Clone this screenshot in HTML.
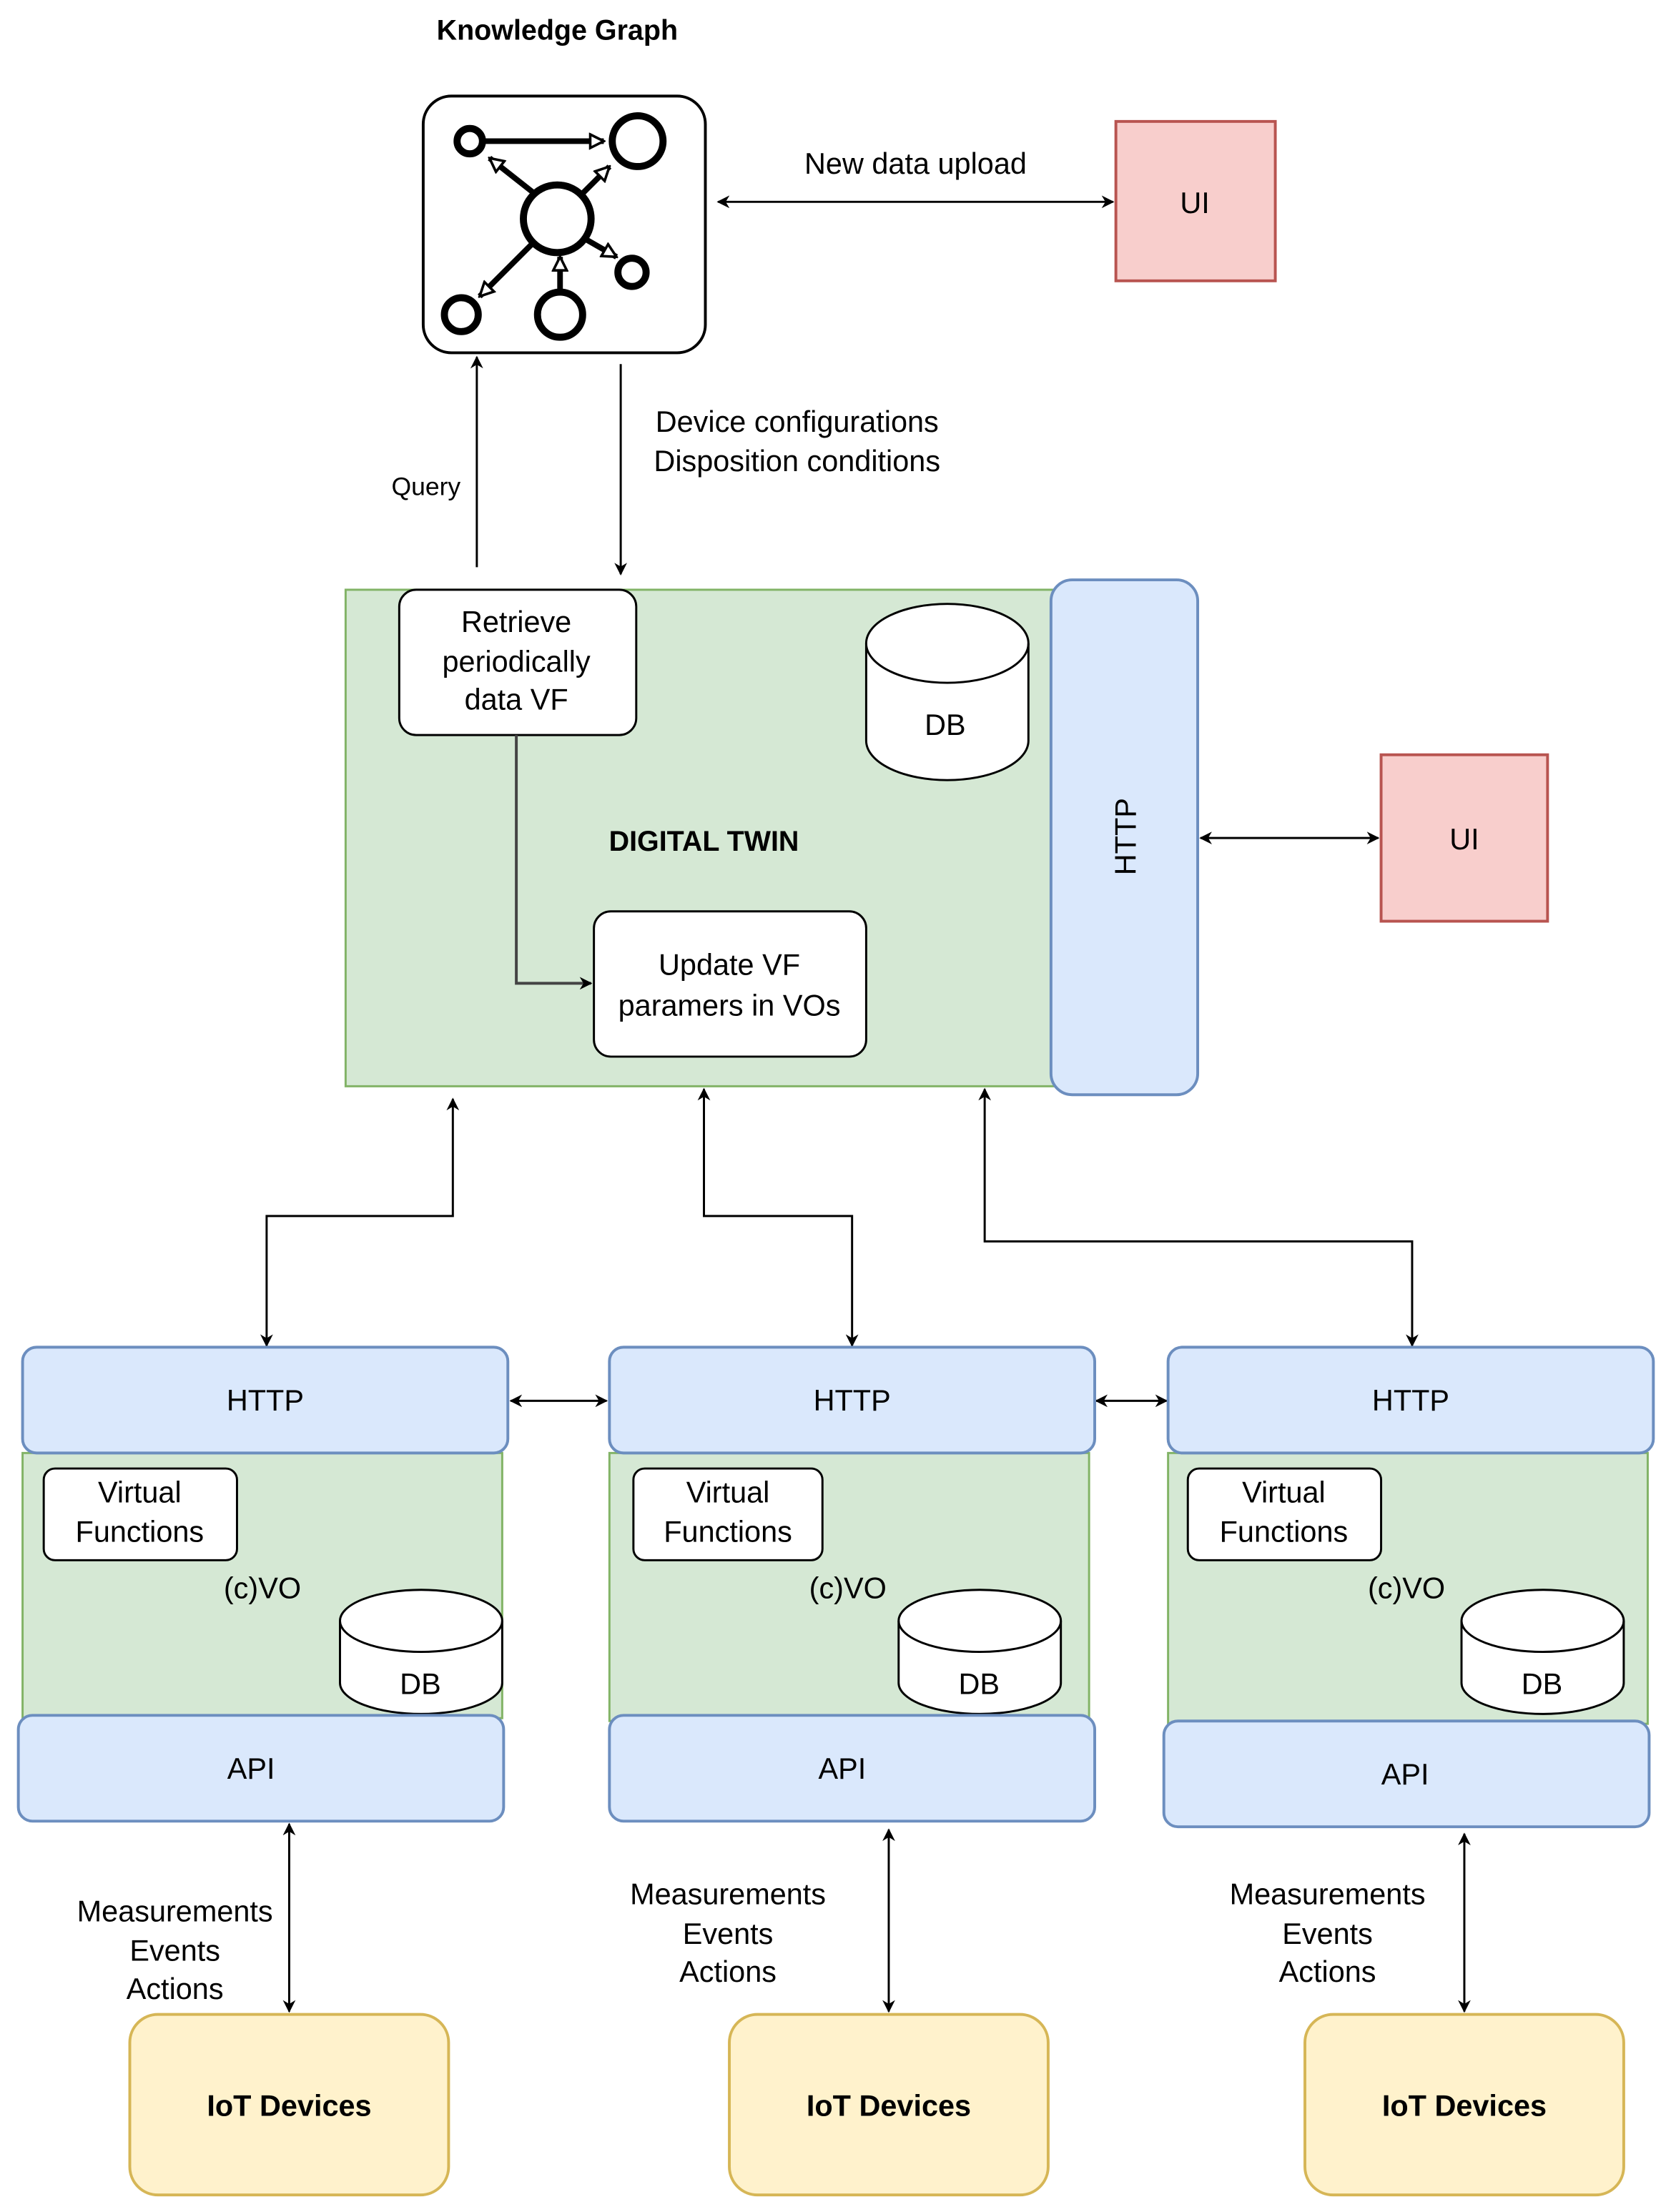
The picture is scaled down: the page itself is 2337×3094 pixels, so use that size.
<!DOCTYPE html>
<html><head><meta charset="utf-8"><style>html,body{margin:0;padding:0;background:#fff}svg{display:block}text{font-family:"Liberation Sans",Arial,sans-serif;fill:#000}</style></head>
<body>
<svg width="2337" height="3094" viewBox="0 0 1184.5 1568" xmlns="http://www.w3.org/2000/svg">
<defs>
<marker id="a" viewBox="0 0 10 10" refX="9" refY="5" markerWidth="9" markerHeight="9" markerUnits="userSpaceOnUse" orient="auto-start-reverse"><path d="M0,0 L10,5 L0,10 L3,5 z" fill="#000"/></marker>
<marker id="o" viewBox="0 0 10 10" refX="9" refY="5" markerWidth="12" markerHeight="12" markerUnits="userSpaceOnUse" orient="auto"><path d="M1,1 L9,5 L1,9 z" fill="#fff" stroke="#000" stroke-width="1.5"/></marker>
</defs>
<g font-size="21">
<text x="395" y="28" text-anchor="middle" font-weight="bold" font-size="20">Knowledge Graph</text>
<rect x="300" y="68" width="200" height="182" rx="20" fill="#fff" stroke="#000" stroke-width="2"/>
<g stroke="#000" stroke-width="5" fill="#fff">
<line x1="342" y1="100" x2="428" y2="100" marker-end="url(#o)" stroke-width="4"/>
<line x1="380" y1="138" x2="347" y2="112" marker-end="url(#o)" stroke-width="4"/>
<line x1="412" y1="138" x2="432" y2="118" marker-end="url(#o)" stroke-width="4"/>
<line x1="416" y1="170" x2="437" y2="182" marker-end="url(#o)" stroke-width="4"/>
<line x1="378" y1="172" x2="340" y2="210" marker-end="url(#o)" stroke-width="4"/>
<line x1="397" y1="207" x2="397" y2="182" marker-end="url(#o)" stroke-width="4"/>
<circle cx="333" cy="100" r="9"/><circle cx="452" cy="100" r="18"/><circle cx="395" cy="155" r="24"/>
<circle cx="448" cy="193" r="10"/><circle cx="327" cy="223" r="12"/><circle cx="397" cy="223" r="16"/>
</g>
<rect x="791" y="86" width="113" height="113" fill="#f8cecc" stroke="#b85450" stroke-width="2"/>
<text x="847" y="151" text-anchor="middle">UI</text>
<g stroke="#000" stroke-width="1.5" fill="none">
<line x1="509" y1="143" x2="789" y2="143" marker-start="url(#a)" marker-end="url(#a)"/>
<line x1="338" y1="402" x2="338" y2="253" marker-end="url(#a)"/>
<line x1="440" y1="258" x2="440" y2="407" marker-end="url(#a)"/>
</g>
<text x="649" y="123" text-anchor="middle">New data upload</text>
<text x="302" y="351" text-anchor="middle" font-size="18">Query</text>
<text x="565" y="306" text-anchor="middle">Device configurations</text>
<text x="565" y="334" text-anchor="middle">Disposition conditions</text>
<rect x="245" y="418" width="505" height="352" fill="#d5e8d4" stroke="#82b366" stroke-width="1.5"/>
<rect x="745" y="411" width="104" height="365" rx="15" fill="#dae8fc" stroke="#6c8ebf" stroke-width="2"/>
<text transform="translate(805,593) rotate(-90)" text-anchor="middle">HTTP</text>
<rect x="283" y="418" width="168" height="103" rx="12" fill="#fff" stroke="#000" stroke-width="1.5"/>
<text x="366" y="448" text-anchor="middle">Retrieve</text>
<text x="366" y="476" text-anchor="middle">periodically</text>
<text x="366" y="503" text-anchor="middle">data VF</text>
<path d="M614,456 a57.5,28 0 0 1 115,0 v69 a57.5,28 0 0 1 -115,0 z" fill="#fff" stroke="#000" stroke-width="1.5"/>
<path d="M614,456 a57.5,28 0 0 0 115,0" fill="none" stroke="#000" stroke-width="1.5"/>
<text x="670" y="521" text-anchor="middle">DB</text>
<text x="499" y="603" text-anchor="middle" font-weight="bold" font-size="20">DIGITAL TWIN</text>
<rect x="421" y="646" width="193" height="103" rx="12" fill="#fff" stroke="#000" stroke-width="1.5"/>
<text x="517" y="691" text-anchor="middle">Update VF</text>
<text x="517" y="720" text-anchor="middle">paramers in VOs</text>
<g stroke="#000" stroke-width="1.5" fill="none">
<polyline points="366,521 366,697 419,697" marker-end="url(#a)" stroke="#444" stroke-width="2"/>
<line x1="851" y1="594" x2="977" y2="594" marker-start="url(#a)" marker-end="url(#a)"/>
<polyline points="321,779 321,862 189,862 189,954" marker-start="url(#a)" marker-end="url(#a)"/>
<polyline points="499,772 499,862 604,862 604,954" marker-start="url(#a)" marker-end="url(#a)"/>
<polyline points="698,772 698,880 1001,880 1001,954" marker-start="url(#a)" marker-end="url(#a)"/>
<line x1="362" y1="993" x2="430" y2="993" marker-start="url(#a)" marker-end="url(#a)"/>
<line x1="777" y1="993" x2="827" y2="993" marker-start="url(#a)" marker-end="url(#a)"/>
</g>
<rect x="979" y="535" width="118" height="118" fill="#f8cecc" stroke="#b85450" stroke-width="2"/>
<text x="1038" y="602" text-anchor="middle">UI</text>

<g>
<rect x="16" y="1030" width="340" height="188" fill="#d5e8d4" stroke="#82b366" stroke-width="1.5"/>
<rect x="432" y="1030" width="340" height="190" fill="#d5e8d4" stroke="#82b366" stroke-width="1.5"/>
<rect x="828" y="1030" width="340" height="192" fill="#d5e8d4" stroke="#82b366" stroke-width="1.5"/>
<rect x="16" y="955" width="344" height="75" rx="10" fill="#dae8fc" stroke="#6c8ebf" stroke-width="2"/>
<rect x="432" y="955" width="344" height="75" rx="10" fill="#dae8fc" stroke="#6c8ebf" stroke-width="2"/>
<rect x="828" y="955" width="344" height="75" rx="10" fill="#dae8fc" stroke="#6c8ebf" stroke-width="2"/>
<text x="188" y="1000" text-anchor="middle">HTTP</text>
<text x="604" y="1000" text-anchor="middle">HTTP</text>
<text x="1000" y="1000" text-anchor="middle">HTTP</text>
<rect x="31" y="1041" width="137" height="65" rx="8" fill="#fff" stroke="#000" stroke-width="1.5"/>
<rect x="449" y="1041" width="134" height="65" rx="8" fill="#fff" stroke="#000" stroke-width="1.5"/>
<rect x="842" y="1041" width="137" height="65" rx="8" fill="#fff" stroke="#000" stroke-width="1.5"/>
<text x="99" y="1065" text-anchor="middle">Virtual</text><text x="99" y="1093" text-anchor="middle">Functions</text>
<text x="516" y="1065" text-anchor="middle">Virtual</text><text x="516" y="1093" text-anchor="middle">Functions</text>
<text x="910" y="1065" text-anchor="middle">Virtual</text><text x="910" y="1093" text-anchor="middle">Functions</text>
<text x="186" y="1133" text-anchor="middle">(c)VO</text>
<text x="601" y="1133" text-anchor="middle">(c)VO</text>
<text x="997" y="1133" text-anchor="middle">(c)VO</text>
<path d="M241,1149 a57.5,22 0 0 1 115,0 v44 a57.5,22 0 0 1 -115,0 z" fill="#fff" stroke="#000" stroke-width="1.5"/>
<path d="M241,1149 a57.5,22 0 0 0 115,0" fill="none" stroke="#000" stroke-width="1.5"/>
<path d="M637,1149 a57.5,22 0 0 1 115,0 v44 a57.5,22 0 0 1 -115,0 z" fill="#fff" stroke="#000" stroke-width="1.5"/>
<path d="M637,1149 a57.5,22 0 0 0 115,0" fill="none" stroke="#000" stroke-width="1.5"/>
<path d="M1036,1149 a57.5,22 0 0 1 115,0 v44 a57.5,22 0 0 1 -115,0 z" fill="#fff" stroke="#000" stroke-width="1.5"/>
<path d="M1036,1149 a57.5,22 0 0 0 115,0" fill="none" stroke="#000" stroke-width="1.5"/>
<text x="298" y="1201" text-anchor="middle">DB</text>
<text x="694" y="1201" text-anchor="middle">DB</text>
<text x="1093" y="1201" text-anchor="middle">DB</text>
<rect x="13" y="1216" width="344" height="75" rx="10" fill="#dae8fc" stroke="#6c8ebf" stroke-width="2"/>
<rect x="432" y="1216" width="344" height="75" rx="10" fill="#dae8fc" stroke="#6c8ebf" stroke-width="2"/>
<rect x="825" y="1220" width="344" height="75" rx="10" fill="#dae8fc" stroke="#6c8ebf" stroke-width="2"/>
<text x="178" y="1261" text-anchor="middle">API</text>
<text x="597" y="1261" text-anchor="middle">API</text>
<text x="996" y="1265" text-anchor="middle">API</text>
<g stroke="#000" stroke-width="1.5">
<line x1="205" y1="1293" x2="205" y2="1426" marker-start="url(#a)" marker-end="url(#a)"/>
<line x1="630" y1="1297" x2="630" y2="1426" marker-start="url(#a)" marker-end="url(#a)"/>
<line x1="1038" y1="1300" x2="1038" y2="1426" marker-start="url(#a)" marker-end="url(#a)"/>
</g>
<text x="124" y="1362" text-anchor="middle">Measurements</text><text x="124" y="1390" text-anchor="middle">Events</text><text x="124" y="1417" text-anchor="middle">Actions</text>
<text x="516" y="1350" text-anchor="middle">Measurements</text><text x="516" y="1378" text-anchor="middle">Events</text><text x="516" y="1405" text-anchor="middle">Actions</text>
<text x="941" y="1350" text-anchor="middle">Measurements</text><text x="941" y="1378" text-anchor="middle">Events</text><text x="941" y="1405" text-anchor="middle">Actions</text>
<rect x="92" y="1428" width="226" height="128" rx="20" fill="#fff2cc" stroke="#d6b656" stroke-width="2"/>
<rect x="517" y="1428" width="226" height="128" rx="20" fill="#fff2cc" stroke="#d6b656" stroke-width="2"/>
<rect x="925" y="1428" width="226" height="128" rx="20" fill="#fff2cc" stroke="#d6b656" stroke-width="2"/>
<text x="205" y="1500" text-anchor="middle" font-weight="bold">IoT Devices</text>
<text x="630" y="1500" text-anchor="middle" font-weight="bold">IoT Devices</text>
<text x="1038" y="1500" text-anchor="middle" font-weight="bold">IoT Devices</text>
</g>
</g>
</svg>
</body></html>
